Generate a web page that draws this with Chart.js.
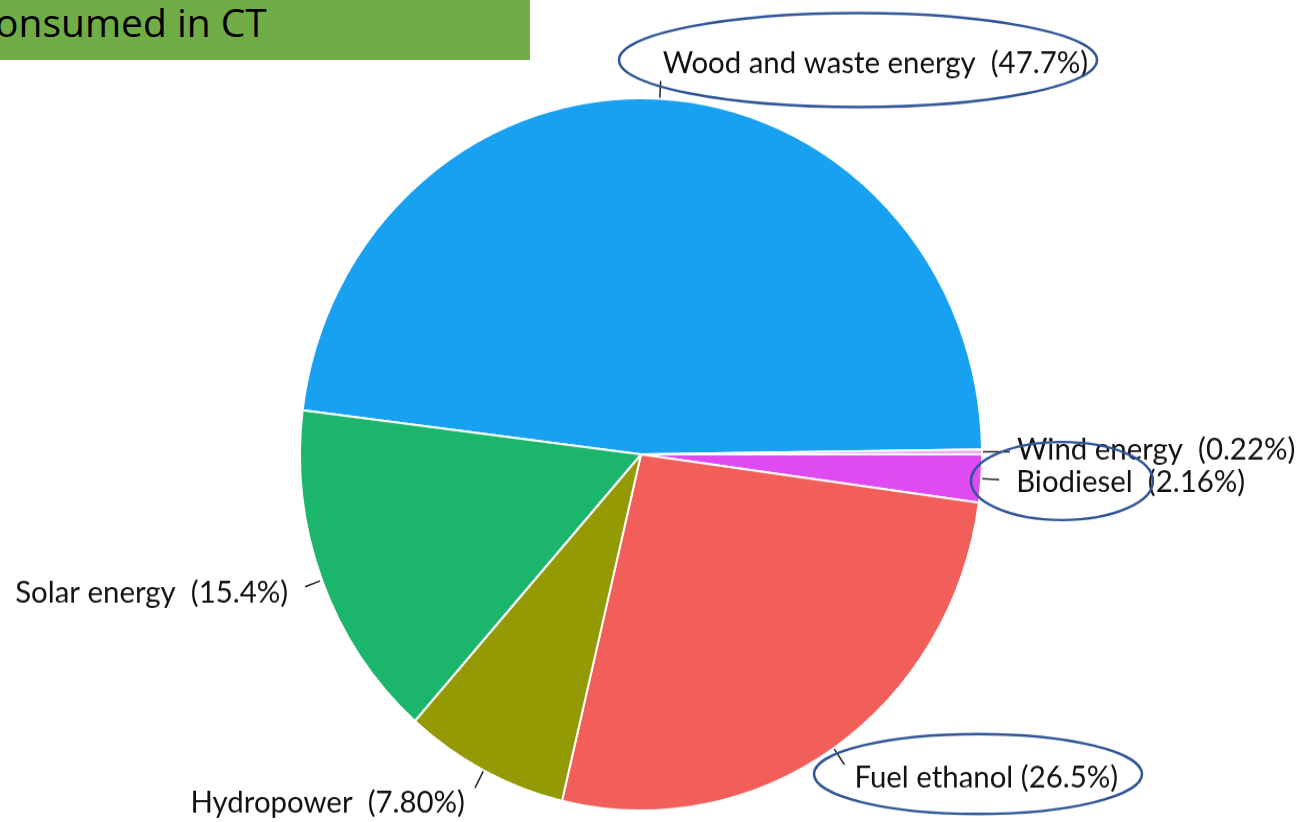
<!DOCTYPE html>
<html>
<head>
<meta charset="utf-8">
<script src="https://cdn.jsdelivr.net/npm/chart.js@4.4.1/dist/chart.umd.min.js"></script>
<style>
  html, body { margin: 0; padding: 0; background: #fff; overflow: hidden; }
  #wrap { position: absolute; left: 0; top: 0; width: 1297px; height: 787px; transform: scaleY(1.0445); transform-origin: 0 0; }
  #banner { position: absolute; left: 0; top: 0; width: 530px; height: 60px; background: #70ad47; overflow: hidden; }
  #banner span { position: absolute; left: -5px; top: -5px; font-family: 'Open Sans', sans-serif; font-size: 39px; color: #000; white-space: nowrap; }
</style>
</head>
<body>
<div id="wrap"><canvas id="pie" width="1297" height="787"></canvas></div>
<div id="banner"><span>onsumed in CT</span></div>
<script>
const sources = ['Wood and waste energy', 'Wind energy', 'Biodiesel', 'Fuel ethanol', 'Hydropower', 'Solar energy'];
const shares = [47.7, 0.22, 2.16, 26.5, 7.80, 15.4];
const shareText = ['47.7%', '0.22%', '2.16%', '26.5%', '7.80%', '15.4%'];
const gaps = ['  ', '  ', '  ', ' ', '  ', '  '];
const sliceColors = ['#18a0f1', '#f0a8f2', '#df4af1', '#f25f5b', '#939a04', '#1bb56c'];

// the page is stretched a little vertically, so the pie comes out slightly oval
const SY = 1.0445;

// leader tick: from r+from to r+to along the slice middle; text offset from the tick end
const ticks = [
  { from: 1, to: 17, dx: 2, dy: -8, align: 'left' },
  { from: 1, to: 28, dx: 7, dy: 8, align: 'left' },
  { from: 1, to: 18, dx: 17, dy: 11.5, align: 'left' },
  { from: 1, to: 19, dx: 10, dy: 22, align: 'left' },
  { from: 1, to: 19, dx: -10, dy: 24, align: 'right' },
  { from: 2, to: 18, dx: -17, dy: 15.3, align: 'right' }
];

// hand-drawn highlight rings: cx, cy, rx, ry in page pixels
const rings = [
  [858, 60, 239, 47],
  [1062, 481, 91, 39],
  [978, 774, 164, 40]
];

const outsideLabels = {
  id: 'outsideLabels',
  afterDraw(chart) {
    const ctx = chart.ctx;
    const arcs = chart.getDatasetMeta(0).data;
    ctx.save();
    ctx.font = '29.4px Lato';
    ctx.fillStyle = '#111';
    ctx.strokeStyle = '#222';
    ctx.lineWidth = 1.5;
    ctx.textBaseline = 'alphabetic';
    arcs.forEach((arc, i) => {
      const { x, y, startAngle, endAngle, outerRadius } = arc.getProps(['x', 'y', 'startAngle', 'endAngle', 'outerRadius'], true);
      const mid = (startAngle + endAngle) / 2;
      const t = ticks[i];
      const c = Math.cos(mid), s = Math.sin(mid);
      const x0 = x + c * (outerRadius + t.from), y0 = y + s * (outerRadius + t.from);
      const x1 = x + c * (outerRadius + t.to), y1 = y + s * (outerRadius + t.to);
      ctx.beginPath();
      ctx.moveTo(x0, y0);
      ctx.lineTo(x1, y1);
      ctx.stroke();
      ctx.textAlign = t.align;
      ctx.fillText(sources[i] + gaps[i] + '(' + shareText[i] + ')', x1 + t.dx, y1 + t.dy);
    });
    ctx.restore();

    ctx.save();
    ctx.scale(1, 1 / SY);
    ctx.strokeStyle = '#2f5597';
    ctx.lineWidth = 2.5;
    rings.forEach(([cx, cy, rx, ry]) => {
      ctx.beginPath();
      ctx.ellipse(cx, cy, rx, ry, 0, 0, Math.PI * 2);
      ctx.stroke();
    });
    ctx.restore();
  }
};

new Chart(document.getElementById('pie'), {
  type: 'pie',
  data: {
    labels: sources,
    datasets: [{
      data: shares,
      backgroundColor: sliceColors,
      borderColor: '#ffffff',
      borderWidth: 2
    }]
  },
  options: {
    responsive: false,
    animation: false,
    rotation: -82.9,
    radius: 341,
    layout: { padding: { left: 300, right: 315, top: 94, bottom: 11 } },
    plugins: { legend: { display: false }, tooltip: { enabled: false } }
  },
  plugins: [outsideLabels]
});
</script>
</body>
</html>
